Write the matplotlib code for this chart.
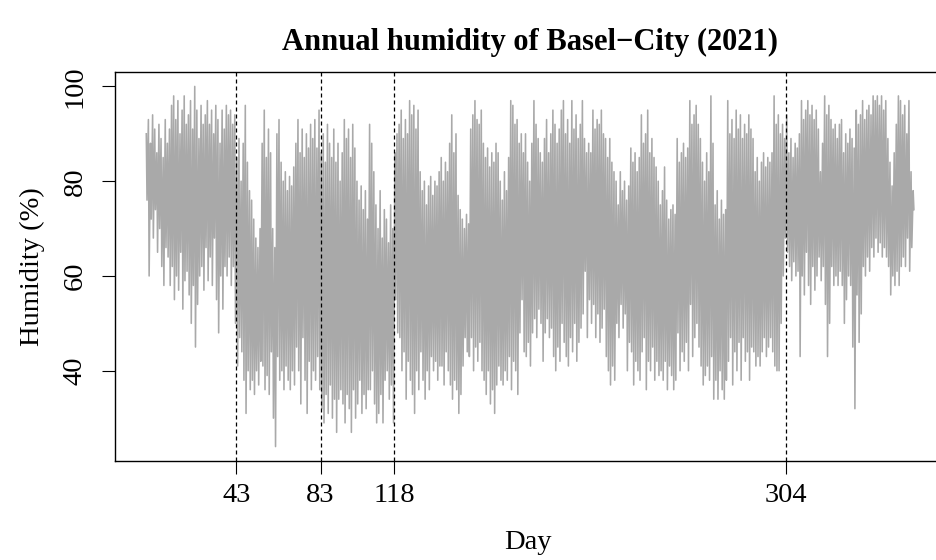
import numpy as np
import matplotlib
matplotlib.use("Agg")
import matplotlib.pyplot as plt

# ---- data (daily maximum / minimum humidity) ----
day_max = [
    90, 93, 88, 94, 91, 86, 92, 89, 85, 93,
    88, 91, 96, 98, 93, 97, 90, 95, 98, 92,
    94, 97, 91, 100, 95, 89, 96, 92, 94, 97,
    92, 95, 90, 96, 93, 88, 95, 91, 96, 94,
    95, 92, 94, 85, 89, 80, 88, 96, 84, 78,
    76, 72, 68, 66, 70, 88, 95, 85, 91, 86,
    70, 66, 90, 93, 84, 80, 82, 78, 81, 79,
    83, 88, 93, 86, 91, 85, 90, 87, 92, 89,
    93, 87, 95, 86, 90, 84, 92, 88, 85, 91,
    84, 88, 80, 86, 93, 89, 91, 85, 92, 87,
    80, 76, 79, 74, 78, 72, 92, 88, 82, 75,
    70, 78, 68, 74, 72, 67, 75, 70, 86, 90,
    92, 95, 89, 93, 90, 97, 94, 96, 91, 95,
    82, 78, 80, 75, 79, 81, 77, 80, 79, 82,
    85, 80, 84, 82, 88, 94, 86, 90, 77, 74,
    72, 70, 73, 71, 91, 94, 97, 93, 92, 95,
    88, 85, 87, 83, 86, 84, 88, 86, 80, 76,
    82, 78, 85, 97, 96, 92, 93, 88, 90, 86,
    90, 84, 80, 88, 97, 92, 89, 86, 84, 89,
    93, 86, 90, 95, 92, 88, 91, 95, 97, 90,
    93, 88, 97, 91, 94, 89, 92, 97, 89, 86,
    88, 86, 95, 91, 93, 92, 95, 90, 89, 85,
    89, 84, 82, 80, 75, 82, 78, 80, 76, 79,
    87, 84, 86, 82, 85, 94, 88, 90, 95, 86,
    89, 85, 83, 80, 75, 78, 83, 76, 72, 74,
    75, 73, 89, 84, 86, 88, 85, 87, 97, 92,
    94, 96, 92, 89, 84, 80, 86, 82, 98, 88,
    75, 78, 72, 76, 73, 74, 97, 90, 93, 89,
    95, 91, 94, 89, 92, 90, 94, 91, 89, 82,
    85, 80, 84, 86, 83, 85, 84, 86, 98, 92,
    94, 90, 92, 89, 94, 86, 89, 85, 88, 87,
    90, 97, 93, 95, 97, 94, 96, 93, 95, 91,
    82, 88, 98, 94, 96, 93, 91, 92, 89, 92,
    93, 86, 90, 88, 91, 89, 87, 95, 92, 94,
    97, 93, 95, 96, 94, 98, 97, 98, 96, 98,
    95, 97, 89, 84, 79, 86, 92, 98, 97, 94,
    96, 90, 97, 82, 78,
]
day_min = [
    76, 60, 72, 68, 74, 65, 70, 62, 58, 66,
    64, 58, 62, 55, 60, 57, 65, 53, 59, 61,
    56, 50, 58, 45, 54, 60, 62, 57, 66, 59,
    64, 58, 68, 55, 48, 60, 53, 62, 60, 64,
    58, 62, 50, 41, 47, 44, 38, 31, 40, 36,
    38, 35, 40, 37, 42, 41, 36, 39, 35, 44,
    30, 24, 43, 38, 40, 36, 41, 38, 36, 40,
    37, 45, 40, 33, 47, 38, 31, 42, 36, 40,
    38, 43, 36, 32, 29, 35, 31, 37, 30, 34,
    27, 34, 36, 33, 29, 35, 32, 27, 36, 30,
    33, 38, 31, 35, 32, 36, 36, 40, 33, 29,
    31, 35, 29, 38, 40, 34, 37, 29, 55, 48,
    47, 40, 44, 34, 42, 38, 35, 31, 40, 36,
    44, 38, 34, 40, 36, 43, 40, 42, 38, 41,
    41, 37, 44, 40, 37, 34, 38, 36, 31, 35,
    41, 47, 44, 43, 47, 40, 45, 42, 46, 40,
    38, 35, 40, 33, 36, 31, 37, 41, 38, 37,
    40, 38, 43, 36, 42, 40, 35, 48, 55, 44,
    43, 46, 41, 48, 51, 47, 53, 50, 42, 48,
    51, 47, 49, 43, 40, 45, 42, 50, 46, 43,
    41, 47, 44, 50, 42, 46, 49, 52, 61, 47,
    55, 50, 54, 47, 52, 46, 49, 53, 43, 40,
    37, 41, 38, 50, 47, 54, 49, 52, 40, 46,
    44, 37, 42, 40, 38, 44, 47, 36, 42, 40,
    45, 38, 42, 39, 40, 38, 42, 36, 41, 39,
    36, 38, 48, 40, 44, 42, 46, 40, 54, 43,
    47, 50, 45, 41, 37, 39, 41, 38, 43, 34,
    38, 34, 40, 36, 34, 38, 42, 47, 37, 44,
    40, 46, 38, 47, 42, 44, 38, 45, 44, 41,
    43, 41, 44, 47, 43, 45, 47, 44, 41, 40,
    40, 50, 60, 68, 65, 62, 59, 63, 60, 61,
    43, 60, 56, 65, 58, 54, 62, 57, 60, 64,
    59, 62, 54, 43, 50, 62, 58, 60, 58, 61,
    58, 50, 55, 60, 58, 45, 32, 56, 46, 52,
    62, 60, 64, 61, 66, 64, 68, 65, 67, 64,
    66, 64, 62, 56, 60, 58, 61, 58, 62, 64,
    62, 68, 61, 66, 74,
]
marked_days = [43, 83, 118, 304]
y_ticks = [40, 60, 80, 100]

title = "Annual humidity of Basel\u2212City (2021)"
xlabel = "Day"
ylabel = "Humidity (%)"

# ---- build the series: within each day the humidity peaks at night and dips in the afternoon
days = np.arange(1, len(day_max) + 1)
x = np.column_stack([days - 1 + 0.25, days - 1 + 0.6]).ravel()
y = np.column_stack([day_max, day_min]).ravel()

plt.rcParams['font.family'] = ['Liberation Serif', 'DejaVu Serif']

W, H = 936, 560
fig = plt.figure(figsize=(W / 100, H / 100), dpi=100)
left, right, top, bottom = 115, 945.5, 72, 461
ax = fig.add_axes([left / W, 1 - bottom / H, (right - left) / W, (bottom - top) / H])

ax.plot(x, y, color='#A9A9A9', lw=1.15)
for d in marked_days:
    ax.axvline(d, color='black', lw=0.9, ls=(0, (3.2, 2.4)))

# R-style 4% padding
x0, x1 = 0, len(day_max)
ax.set_xlim(x0 - 0.04 * (x1 - x0), x1 + 0.04 * (x1 - x0))
y0, y1 = min(day_min), max(day_max)
ax.set_ylim(y0 - 0.04 * (y1 - y0), y1 + 0.04 * (y1 - y0))

ax.set_xticks(marked_days)
ax.set_xticklabels([str(d) for d in marked_days])
ax.set_yticks(y_ticks)
ax.set_yticklabels([str(v) for v in y_ticks])

ax.tick_params(axis='both', length=9.1, width=0.8, labelsize=20.5, color='black')
ax.tick_params(axis='x', pad=6.5)
ax.tick_params(axis='y', pad=10.5, labelrotation=90)
for lab in ax.get_yticklabels():
    lab.set_va('center')

for s in ax.spines.values():
    s.set_linewidth(1.0)

ax.set_title(title, fontsize=22, fontweight='bold', pad=16)
ax.set_xlabel(xlabel, fontsize=20.5, va='top')
ax.xaxis.set_label_coords(0.497, -0.178)
ax.set_ylabel(ylabel, fontsize=20.5, va='center')
ax.yaxis.set_label_coords(-0.1000, 0.5)

fig.savefig('out.png', dpi=100)
